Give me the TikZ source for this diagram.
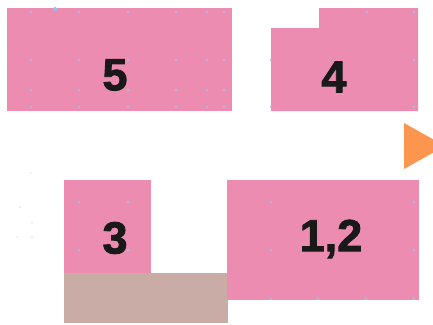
\documentclass[tikz,border=0pt]{standalone}
\usepackage{fontspec}
\setmainfont{Liberation Sans}[BoldFeatures={FakeBold=2}]
\definecolor{blockpink}{RGB}{236,140,176}
\definecolor{blockbrown}{RGB}{201,172,166}
\definecolor{arroworange}{RGB}{252,150,78}
\definecolor{dotblue}{RGB}{178,182,236}
\tikzset{
  blockfill/.style={fill=blockpink, draw=none},
  num/.style={font=\fontsize{45}{45}\selectfont\bfseries, text=black!90, inner sep=0pt},
  speck/.style={fill=dotblue, draw=none}
}
\begin{document}
\begin{tikzpicture}[x=1pt,y=-1pt]
\useasboundingbox (0,0) rectangle (433,324);
% block 5
\fill[blockfill] (7,8) rectangle (232,111);
\foreach \x in {31,79,128,176,207,224}{
  \foreach \y in {12,60,90,107}{
    \fill[speck] (\x,\y) circle (1.3);
  }
}
\fill[dotblue!70!cyan] (55,9) circle (2);
% block 4
\fill[blockfill] (271,28) -- (319,28) -- (319,8) -- (418,8) -- (418,111) -- (271,111) -- cycle;
\foreach \p in {(367,12),(414,12),(414,60),(271,60),(414,107),(271,107)}{
  \fill[speck] \p circle (1.3);
}
% block 3 with brown strip
\fill[blockfill] (64,180) rectangle (151,273);
\fill[blockbrown] (64,273) rectangle (228,323);
\foreach \p in {(79,202),(128,202),(79,250),(128,250)}{
  \fill[speck] \p circle (1.3);
}
% block 1,2
\fill[blockfill] (227,180) rectangle (419,300);
\foreach \p in {(271,202),(414,202),(271,250),(414,250),(271,299),(318,299),(366,299),(414,299)}{
  \fill[speck] \p circle (1.3);
}
% orange triangle (clipped at the right edge)
\begin{scope}
\clip (0,0) rectangle (433,324);
\fill[arroworange] (404,123) -- (445,146) -- (404,169) -- cycle;
\end{scope}
% faint marks at left
\foreach \p in {(31,173),(20,207),(32,223),(17,237),(32,237)}{
  \fill[black!25] \p circle (0.6);
}
% labels
\node[num] (n5) at (115,75) {5};
\node[num] (n4) at (334,77) {4};
\node[num] (n3) at (115,238) {3};
\node[num] (n12) at (331,239) {1,2};
\end{tikzpicture}
\end{document}
